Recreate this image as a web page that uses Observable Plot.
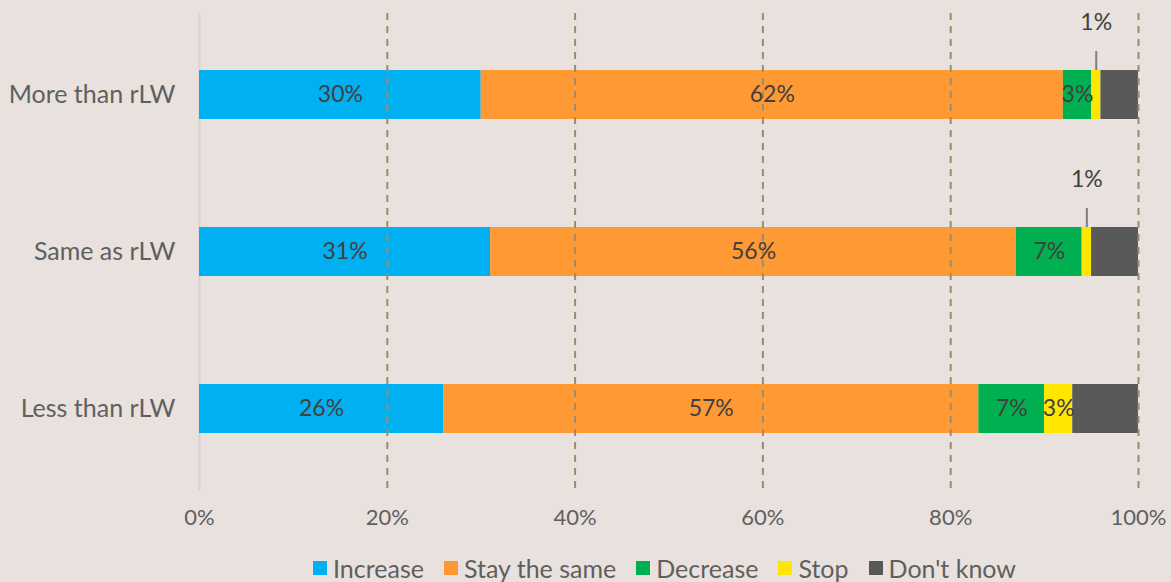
<!DOCTYPE html>
<html>
<head>
<meta charset="utf-8">
<script src="https://cdn.jsdelivr.net/npm/d3@7"></script>
<script src="https://cdn.jsdelivr.net/npm/@observablehq/plot@0.6"></script>
<style>
  html, body { margin: 0; padding: 0; background: #E8E1DE; }
  body { width: 1171px; height: 582px; overflow: hidden; font-family: Lato, "Open Sans", sans-serif; }
  #legend { position: absolute; top: 553px; left: 0; width: 1171px; display: flex; justify-content: center; font-size: 25px; line-height: 30px; color: #5F5F5F; padding-left: 178px; box-sizing: border-box; }
  #legend .item { display: flex; align-items: center; margin-right: 20px; }
  #legend .sw { width: 14px; height: 14px; display: inline-block; margin-right: 6px; }
</style>
</head>
<body>
<div id="chart"></div>
<div id="legend"></div>
<script>
const categories = ["More than rLW", "Same as rLW", "Less than rLW"];
const seriesNames = ["Increase", "Stay the same", "Decrease", "Stop", "Don't know"];
const colors = ["#00B0F0", "#FF9933", "#00B050", "#FFE600", "#595959"];
const increase = [30, 31, 26];
const stayTheSame = [62, 56, 57];
const decrease = [3, 7, 7];
const stop = [1, 1, 3];
const dontKnow = [4, 5, 7];
const xTicks = [0, 20, 40, 60, 80, 100];

const seriesValues = [increase, stayTheSame, decrease, stop, dontKnow];
const data = [];
categories.forEach((c, i) => {
  let cum = 0;
  seriesNames.forEach((s, j) => {
    const v = seriesValues[j][i];
    data.push({category: c, series: s, value: v, mid: cum + v / 2, showLabel: s !== "Don't know"});
    cum += v;
  });
});
const inside = data.filter(d => d.showLabel && d.value >= 2);
const above = data.filter(d => d.showLabel && d.value < 2);

const chart = Plot.plot({
  width: 1171,
  height: 540,
  marginLeft: 199,
  marginRight: 33,
  marginTop: 13,
  marginBottom: 50,
  style: {background: "transparent", fontFamily: "Lato, 'Open Sans', sans-serif", fontSize: "22px", color: "#5F5F5F"},
  x: {domain: [0, 100], ticks: xTicks, tickFormat: d => d + "%", tickSize: 0, tickPadding: 19, label: null},
  y: {domain: categories, paddingInner: 0.688, paddingOuter: 0.363, label: null},
  color: {domain: seriesNames, range: colors},
  marks: [
    Plot.ruleX([0], {stroke: "#D6D3D0", strokeWidth: 2}),
    Plot.barX(data, Plot.stackX({x: "value", y: "category", fill: "series", order: seriesNames})),
    Plot.ruleX(xTicks.filter(t => t > 0), {stroke: "#9C8C6E", strokeWidth: 2, strokeDasharray: "7,6"}),
    Plot.text(inside, {x: "mid", y: "category", text: d => d.value + "%", fill: "#404040", fontSize: 23}),
    Plot.tickX(above, {x: "mid", y: "category", stroke: "#7F7F7F", strokeWidth: 2, insetTop: -19, insetBottom: 49}),
    Plot.text(above, {x: "mid", y: "category", text: d => d.value + "%", fill: "#404040", fontSize: 23, dy: -72}),
    Plot.axisY({tickSize: 0, tickPadding: 24, fontSize: 25, label: null})
  ]
});
document.getElementById("chart").appendChild(chart);

const legend = document.getElementById("legend");
seriesNames.forEach((s, i) => {
  const item = document.createElement("div");
  item.className = "item";
  const sw = document.createElement("span");
  sw.className = "sw";
  sw.style.background = colors[i];
  const t = document.createElement("span");
  t.textContent = s;
  item.appendChild(sw);
  item.appendChild(t);
  legend.appendChild(item);
});
</script>
</body>
</html>
